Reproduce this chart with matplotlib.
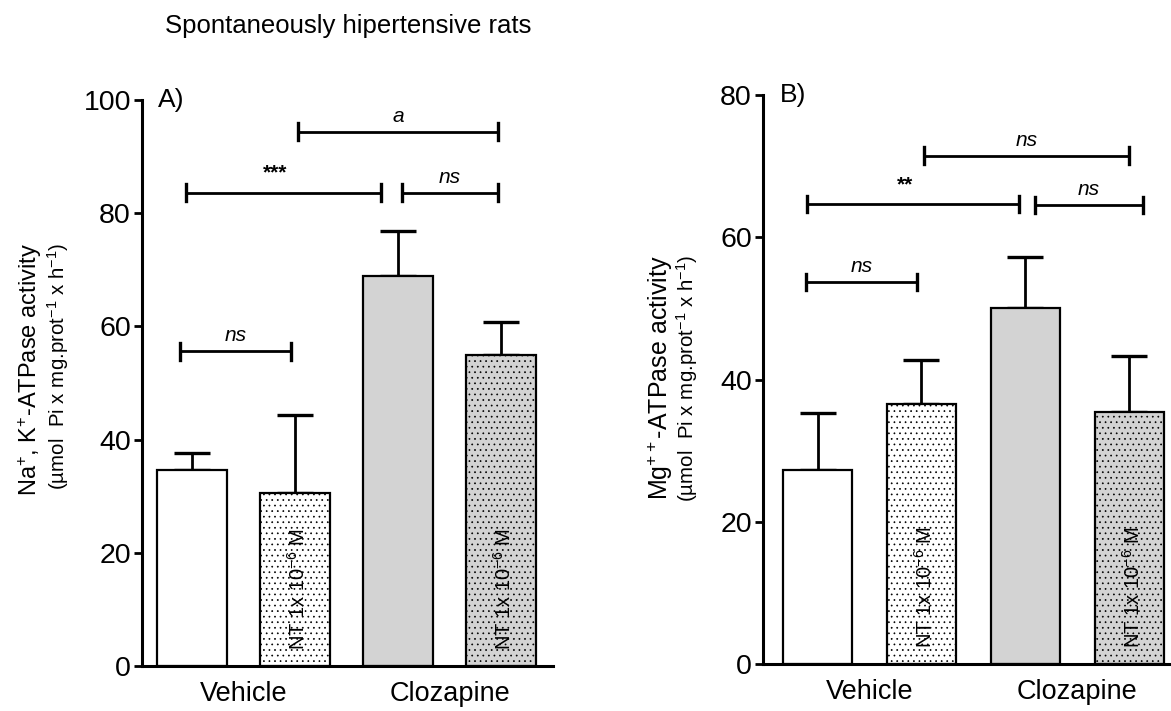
import matplotlib
matplotlib.use("Agg")
import matplotlib.pyplot as plt
import numpy as np

plt.rcParams['font.family'] = ['Liberation Sans', 'DejaVu Sans']
plt.rcParams['mathtext.fontset'] = 'custom'
plt.rcParams['mathtext.rm'] = 'Liberation Sans'
plt.rcParams['mathtext.it'] = 'Liberation Sans:italic'
plt.rcParams['hatch.linewidth'] = 0.5

# data
groups = ['Vehicle', 'Clozapine']
bar_labels = ['', r'NT 1x 10$^{-6}$ M', '', r'NT 1x 10$^{-6}$ M']
bar_colors = ['white', 'white', '#d3d3d3', '#d3d3d3']
bar_hatch = [None, '...', None, '...']

nak_mean = [34.7, 30.6, 68.9, 54.9]
nak_sem = [2.9, 13.8, 7.9, 5.9]
mg_mean = [27.3, 36.5, 50.1, 35.4]
mg_sem = [8.0, 6.3, 7.2, 7.9]

# significance brackets: (x1, x2, y, label)
nak_sig = [(-0.12, 0.96, 55.6, 'ns'), (-0.06, 1.83, 83.6, '***'),
           (2.04, 2.97, 83.6, 'ns'), (1.03, 2.97, 94.4, 'a')]
mg_sig = [(-0.11, 0.96, 53.7, 'ns'), (-0.10, 1.94, 64.7, '**'),
          (2.09, 3.13, 64.6, 'ns'), (1.02, 3.00, 71.5, 'ns')]


def draw_panel(ax, means, sems, sig, ymax, xlim, width, tick_h, lab_y):
    x = np.arange(len(means))
    bars = ax.bar(x, means, width=width, color=bar_colors, edgecolor='black',
                  linewidth=1.6, zorder=2)
    for b, h in zip(bars, bar_hatch):
        if h:
            b.set_hatch(h)
    ax.errorbar(x, means, yerr=[np.zeros(len(sems)), sems], fmt='none',
                ecolor='black', elinewidth=2, capsize=13, capthick=2.4, zorder=1)
    for xi, lab in zip(x, bar_labels):
        if lab:
            ax.text(xi + 0.03, lab_y, lab, rotation=90, ha='center', va='bottom',
                    fontsize=14.5, zorder=3)
    for x1, x2, y, lab in sig:
        ax.plot([x1, x2], [y, y], color='black', lw=2)
        ax.plot([x1, x1], [y - tick_h, y + tick_h], color='black', lw=2.4)
        ax.plot([x2, x2], [y - tick_h, y + tick_h], color='black', lw=2.4)
        star = '*' in lab
        ax.text((x1 + x2) / 2 - (0.08 if star else 0), y + tick_h * (1.2 if star else 0.7),
                lab, ha='center', va='bottom', fontsize=15,
                style='normal' if star else 'italic',
                fontweight='bold' if star else 'normal')
    ax.set_xlim(*xlim)
    ax.set_ylim(0, ymax)
    ax.set_yticks(np.arange(0, ymax + 1, 20))
    ax.set_xticks([0.5, 2.5])
    ax.set_xticklabels(groups, fontsize=19.5)
    ax.tick_params(axis='x', length=0, pad=11)
    ax.tick_params(axis='y', labelsize=20.5, width=2, length=6, pad=2)
    for s in ['top', 'right']:
        ax.spines[s].set_visible(False)
    for s in ['left', 'bottom']:
        ax.spines[s].set_linewidth(2.2)


fig = plt.figure(figsize=(11.71, 7.11), dpi=100)
axA = fig.add_axes([0.1213, 0.0633, 0.351, 0.796])
axB = fig.add_axes([0.6516, 0.0661, 0.3484, 0.800])

draw_panel(axA, nak_mean, nak_sem, nak_sig, 100, (-0.485, 3.505), 0.68, 1.5, 2.8)
draw_panel(axB, mg_mean, mg_sem, mg_sig, 80, (-0.524, 3.40), 0.665, 1.15, 2.2)
axA.text(-0.33, 100, 'A)', fontsize=19, va='center', ha='left')
axB.text(-0.36, 80, 'B)', fontsize=19, va='center', ha='left')

fig.text(165 / 1171, 1 - 26 / 711, 'Spontaneously hipertensive rats', fontsize=18.5,
         ha='left', va='center')

fig.text(30 / 1171, 1 - 370 / 711, r'Na$^{+}$, K$^{+}$-ATPase activity', rotation=90,
         fontsize=17, ha='center', va='center')
fig.text(58 / 1171, 1 - 366 / 711, r'(µmol  Pi x mg.prot$^{-1}$ x h$^{-1}$)',
         rotation=90, fontsize=14.8, ha='center', va='center')
fig.text(660 / 1171, 1 - 378 / 711, r'Mg$^{++}$-ATPase activity', rotation=90,
         fontsize=18, ha='center', va='center')
fig.text(687 / 1171, 1 - 378 / 711, r'(µmol  Pi x mg.prot$^{-1}$ x h$^{-1}$)',
         rotation=90, fontsize=14.8, ha='center', va='center')

fig.savefig('out.png', dpi=100)
